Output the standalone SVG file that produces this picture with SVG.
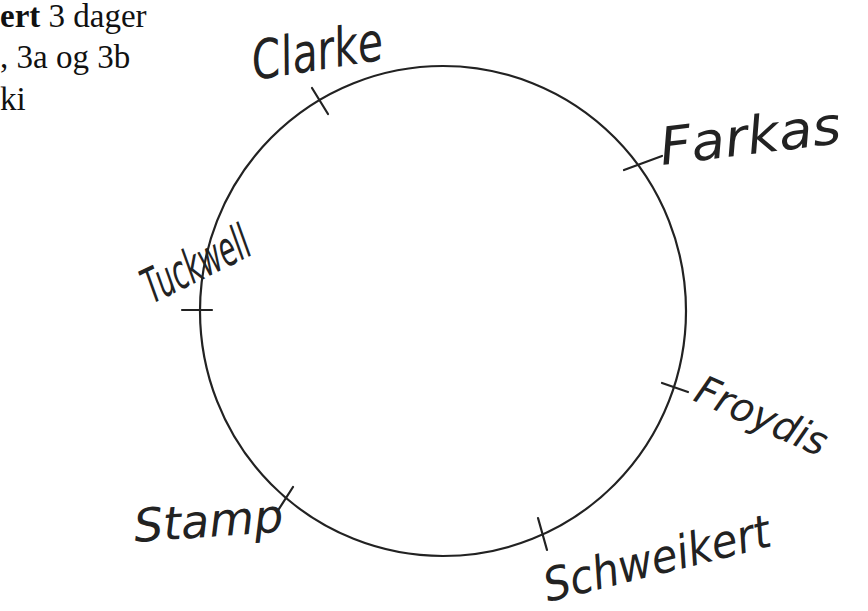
<svg xmlns="http://www.w3.org/2000/svg" width="868" height="611" viewBox="0 0 868 611">
<style>
.print{font-family:"Liberation Serif","DejaVu Serif",serif;font-size:33px;fill:#111}
.hand{font-family:"DejaVu Sans","Liberation Sans",sans-serif;font-weight:200;fill:#222;font-style:italic}
.ln{fill:none;stroke:#222;stroke-width:2.2;stroke-linecap:round}
</style>
<rect width="868" height="611" fill="#ffffff"/>
<g id="header">
<text class="print" x="0" y="27"><tspan font-weight="bold">ert</tspan> 3 dager</text>
<text class="print" x="0" y="68">, 3a og 3b</text>
<text class="print" x="0" y="110">ki</text>
</g>
<g id="ring"><ellipse class="ln" cx="443" cy="311" rx="243" ry="245"/></g>
<g id="connectors">
<line class="ln" x1="312" y1="88" x2="328" y2="114"/>
<line class="ln" x1="624" y1="170" x2="662" y2="156"/>
<line class="ln" x1="182" y1="310" x2="212" y2="310"/>
<line class="ln" x1="662" y1="383" x2="688" y2="392"/>
<line class="ln" x1="293" y1="487" x2="277" y2="512"/>
<line class="ln" x1="538" y1="518" x2="547" y2="550"/>
</g>
<g id="clarke"><text class="hand" x="255" y="80" font-size="54" textLength="132" lengthAdjust="spacingAndGlyphs" transform="rotate(-9 255 80)">Clarke</text></g>
<g id="farkas"><text class="hand" x="662" y="165" font-size="52" textLength="182" lengthAdjust="spacingAndGlyphs" transform="rotate(-7 662 165)">Farkas</text></g>
<g id="tuckwell"><text class="hand" x="152" y="304" font-size="48" textLength="114" lengthAdjust="spacingAndGlyphs" transform="rotate(-26 152 304)">Tuckwell</text></g>
<g id="froydis"><text class="hand" x="692" y="400" font-size="40" textLength="140" lengthAdjust="spacingAndGlyphs" transform="rotate(24 692 400)">Froydis</text></g>
<g id="stamp"><text class="hand" x="135" y="542" font-size="46" transform="rotate(-4 135 542)">Stamp</text></g>
<g id="schweikert"><text class="hand" x="548" y="602" font-size="46" textLength="232" lengthAdjust="spacingAndGlyphs" transform="rotate(-14 548 602)">Schweikert</text></g>
</svg>
